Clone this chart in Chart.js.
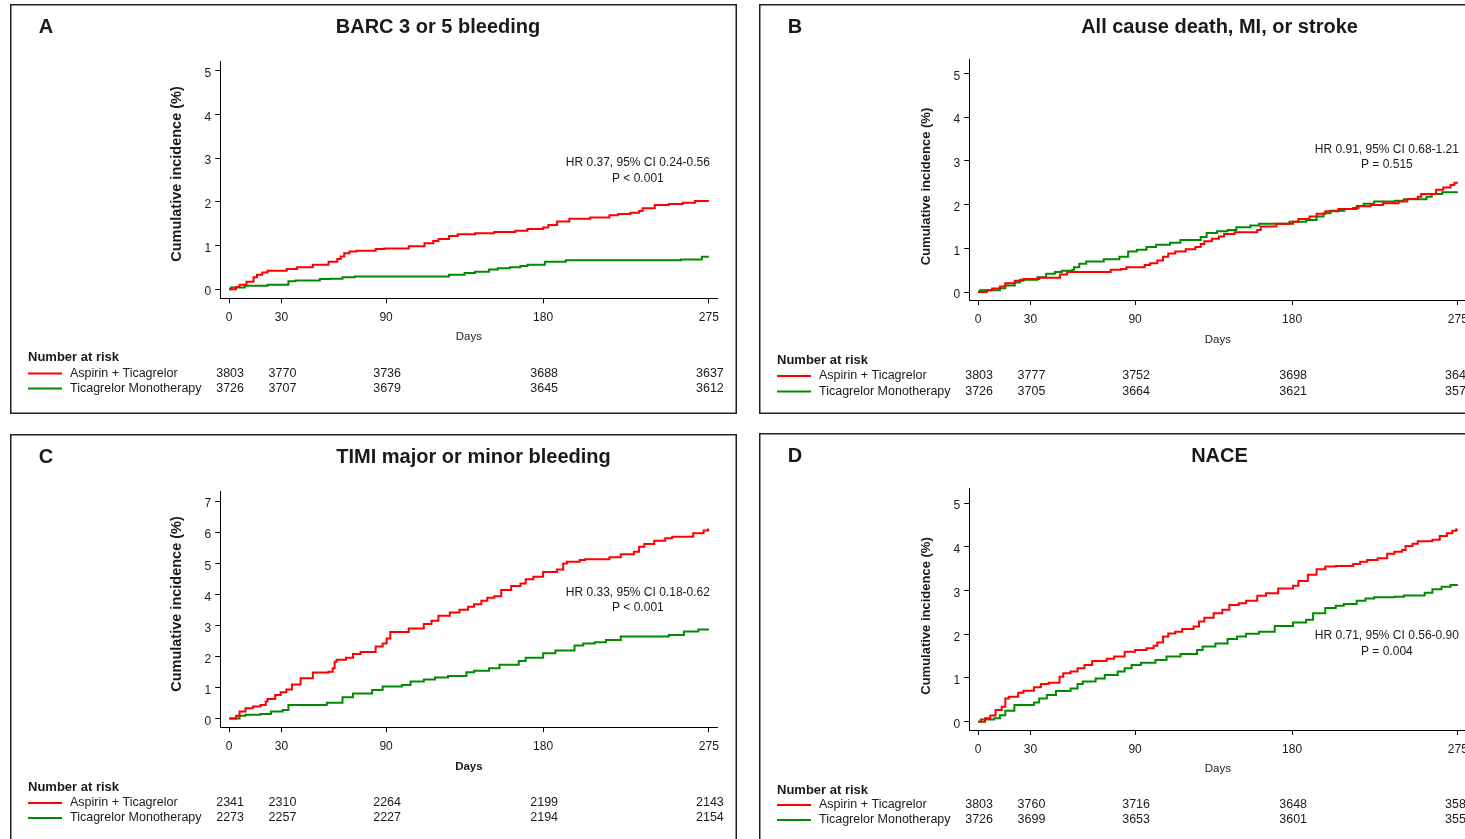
<!DOCTYPE html>
<html>
<head>
<meta charset="utf-8">
<script src="https://cdn.jsdelivr.net/npm/chart.js@4.4.1/dist/chart.umd.min.js"></script>
<style>
  html, body { margin: 0; padding: 0; background: #fff; overflow: hidden; width: 1465px; height: 839px; }
  canvas { position: absolute; }
</style>
</head>
<body>
<canvas id="pA" width="727" height="410" style="left:10px;top:4px"></canvas>
<canvas id="pB" width="727" height="410" style="left:759px;top:4px"></canvas>
<canvas id="pC" width="727" height="410" style="left:10px;top:434px"></canvas>
<canvas id="pD" width="727" height="410" style="left:759px;top:433px"></canvas>
<script>
// ticks on the time axis (days)
const dayTicks = [0, 30, 90, 180, 275];

// A - BARC 3 or 5 bleeding  [day, cumulative %]
const barcAsp = [[0,0],[3,0],[4,0.05],[6,0.1],[10,0.17],[14,0.27],[16,0.33],[19,0.38],[22,0.42],[33,0.46],[39,0.5],[48,0.56],[57,0.63],[62,0.69],[64,0.75],[66,0.82],[69,0.86],[73,0.88],[84,0.92],[89,0.93],[103,0.98],[112,1.05],[117,1.1],[120,1.15],[126,1.22],[131,1.26],[141,1.28],[152,1.31],[164,1.34],[171,1.38],[180,1.41],[183,1.47],[188,1.55],[195,1.61],[207,1.64],[218,1.69],[223,1.72],[230,1.75],[235,1.79],[237,1.85],[244,1.93],[252,1.95],[260,1.98],[267,2.02],[275,2.02]];
const barcTica = [[0,0],[1,0.04],[9,0.08],[22,0.1],[34,0.18],[38,0.2],[52,0.23],[58,0.24],[65,0.27],[72,0.29],[126,0.33],[135,0.37],[141,0.4],[149,0.45],[154,0.48],[161,0.5],[167,0.53],[171,0.56],[181,0.63],[193,0.66],[259,0.68],[271,0.74],[275,0.74]];
const barcRiskAsp = [3803, 3770, 3736, 3688, 3637];
const barcRiskTica = [3726, 3707, 3679, 3645, 3612];

// B - All cause death, MI, or stroke
const deathAsp = [[0,0],[2,0],[5,0.04],[8,0.08],[12.5,0.13],[15.6,0.2],[21,0.26],[26,0.3],[35,0.33],[47,0.4],[51,0.46],[76,0.51],[82,0.53],[85,0.57],[95.5,0.62],[98.6,0.66],[102.7,0.72],[106,0.81],[109,0.88],[113,0.93],[119,0.98],[124.5,1.03],[127.6,1.1],[129.7,1.16],[134,1.22],[138,1.27],[141,1.33],[147,1.37],[160,1.42],[162,1.5],[171,1.56],[180.5,1.61],[183.6,1.67],[190,1.73],[194,1.79],[199,1.85],[206.5,1.9],[215,1.92],[218,1.96],[225,1.99],[232,2.03],[241,2.07],[246,2.13],[252,2.18],[254,2.24],[262.5,2.34],[266.6,2.39],[270.8,2.45],[273,2.5],[275,2.5]];
const deathTica = [[0,0],[1,0.04],[12.5,0.09],[15.6,0.15],[21,0.22],[24,0.28],[34,0.34],[39,0.42],[44,0.46],[48,0.49],[54,0.51],[55,0.57],[58,0.65],[62,0.7],[72,0.75],[81,0.81],[86,0.93],[91,0.97],[96.5,1.03],[102,1.08],[110,1.13],[116,1.19],[127.6,1.26],[131,1.35],[137,1.39],[143,1.42],[148,1.48],[156,1.52],[161,1.56],[178.5,1.61],[188,1.65],[194,1.73],[198,1.8],[202,1.86],[210,1.9],[217,1.97],[221,2.02],[227,2.07],[239,2.09],[244,2.12],[257,2.18],[260,2.24],[266,2.28],[275,2.28]];
const deathRiskAsp = [3803, 3777, 3752, 3698, 3648];
const deathRiskTica = [3726, 3705, 3664, 3621, 3578];

// C - TIMI major or minor bleeding
const timiAsp = [[0,0],[3,0],[4,0.09],[6,0.23],[9.4,0.33],[13.6,0.39],[18,0.44],[21,0.55],[22,0.63],[26.4,0.76],[29.6,0.85],[32.8,0.94],[36,1.1],[41,1.3],[48,1.48],[57,1.51],[59.4,1.62],[60.5,1.83],[61.6,1.89],[67,1.96],[71,2.08],[75.4,2.14],[84,2.32],[88,2.42],[90.3,2.58],[92.4,2.79],[103,2.9],[111.6,3.04],[116,3.15],[120,3.31],[126.5,3.41],[132,3.5],[137,3.6],[140.4,3.68],[144.6,3.79],[148,3.89],[152,3.94],[156,4.14],[161.7,4.27],[167,4.35],[170,4.48],[174.4,4.56],[180,4.72],[188,4.8],[191.5,4.99],[193.6,5.05],[201,5.1],[204,5.13],[218,5.19],[224.5,5.29],[232,5.37],[235,5.53],[238,5.62],[243.7,5.72],[250,5.8],[254,5.85],[266,5.96],[272,6.05],[274.6,6.12]];
const timiTica = [[0,0],[6,0.09],[9.4,0.12],[18,0.15],[24,0.23],[30.7,0.28],[34,0.44],[56,0.51],[65,0.69],[71,0.81],[82,0.92],[88,1.03],[99,1.08],[104,1.19],[111.6,1.26],[118,1.32],[125.5,1.37],[136,1.49],[140.4,1.54],[149,1.62],[155,1.73],[166,1.85],[170,1.96],[180,2.1],[187,2.19],[198,2.35],[203,2.42],[209.6,2.46],[216,2.53],[224.5,2.64],[252,2.69],[260.7,2.8],[269,2.87],[275,2.87]];
const timiRiskAsp = [2341, 2310, 2264, 2199, 2143];
const timiRiskTica = [2273, 2257, 2227, 2194, 2154];

// D - NACE
const naceAsp = [[0,0],[2,0],[4,0.08],[7,0.14],[10,0.27],[13.5,0.34],[15.6,0.53],[17.6,0.57],[23,0.66],[26,0.71],[32,0.79],[36,0.86],[40.5,0.89],[46.7,1.03],[48.8,1.11],[53,1.15],[57,1.22],[61,1.3],[65.4,1.39],[73.7,1.44],[78,1.49],[84,1.6],[90,1.64],[96.5,1.68],[100.6,1.74],[102.7,1.81],[106,1.95],[109,2.02],[113,2.06],[117,2.12],[123.5,2.18],[126.6,2.29],[129.7,2.38],[135,2.48],[140,2.56],[144,2.67],[149.4,2.71],[153.6,2.77],[160,2.88],[165,2.94],[172,3.05],[180.5,3.11],[183.6,3.22],[189,3.36],[194,3.49],[199,3.55],[205,3.56],[215,3.61],[219,3.66],[223,3.7],[229,3.74],[234.5,3.84],[238.6,3.89],[243,3.93],[245,4.02],[249,4.07],[252,4.13],[260.4,4.16],[264.6,4.25],[268.7,4.31],[271.8,4.37],[274,4.4],[275,4.4]];
const naceTica = [[0,0],[1.5,0.05],[9.3,0.08],[12.5,0.15],[15.6,0.25],[20.8,0.38],[32,0.44],[35,0.53],[39.4,0.61],[44.6,0.7],[53,0.76],[57,0.86],[60,0.92],[67.4,0.99],[72.6,1.07],[80,1.15],[84,1.22],[88,1.3],[93.4,1.35],[101.7,1.41],[108,1.49],[116,1.55],[125.5,1.64],[128.7,1.72],[136,1.79],[143,1.89],[148.4,1.95],[153.6,2.01],[161,2.06],[170,2.19],[180.5,2.27],[188,2.33],[192,2.48],[199,2.6],[205,2.65],[209.6,2.69],[217,2.77],[222,2.82],[227,2.85],[238.6,2.86],[244,2.89],[256,2.95],[260.4,3.03],[265.6,3.09],[270.8,3.13],[275,3.13]];
const naceRiskAsp = [3803, 3760, 3716, 3648, 3582];
const naceRiskTica = [3726, 3699, 3653, 3601, 3551];

const groupNames = ['Aspirin + Ticagrelor', 'Ticagrelor Monotherapy'];

const FONT = '"Liberation Sans", Arial, Helvetica, sans-serif';
const INK = '#1a1a1a';
const RED = '#ff0000';
const GREEN = '#008b00';
const Y_AXIS_W = 40;   // room kept for the y tick labels
const X_AXIS_H = 30;   // room kept for the x tick labels

// box, headings, HR text and number-at-risk table
const panelDecor = {
  id: 'panelDecor',
  afterDraw(chart, args, p) {
    const ctx = chart.ctx;
    const xs = chart.scales.x, ys = chart.scales.y, ca = chart.chartArea;
    ctx.save();
    ctx.strokeStyle = '#222';
    ctx.lineWidth = 1.5;
    ctx.strokeRect(0.75, 0.75, chart.width - 1.5, chart.height - 1.5);

    ctx.fillStyle = INK;
    ctx.textBaseline = 'middle';
    ctx.font = 'bold 20px ' + FONT;
    ctx.textAlign = 'center';
    ctx.fillText(p.letter, 36, 23);
    ctx.fillText(p.title, p.titleX, 23);

    // y title
    ctx.save();
    ctx.translate(167, p.yTitleY);
    ctx.rotate(-Math.PI / 2);
    ctx.font = 'bold ' + p.yTitleSize + 'px ' + FONT;
    ctx.fillText('Cumulative incidence (%)', 0, 0);
    ctx.restore();

    ctx.font = (p.daysBold ? 'bold ' : '') + '11.5px ' + FONT;
    ctx.fillText('Days', (ca.left + ca.right) / 2, p.daysY);

    // hazard ratio
    ctx.font = '12px ' + FONT;
    const hx = xs.getPixelForValue(234.3);
    const hy = ys.getPixelForValue(p.hrY);
    ctx.fillText(p.hr[0], hx, hy);
    ctx.fillText(p.hr[1], hx, hy + 15.5);

    // number at risk
    ctx.textAlign = 'left';
    ctx.font = 'bold 13px ' + FONT;
    ctx.fillText('Number at risk', 18, p.risk[0]);
    const rows = [[p.riskAsp, RED], [p.riskTica, GREEN]];
    rows.forEach(([vals, col], i) => {
      const y = p.risk[i + 1];
      ctx.strokeStyle = col;
      ctx.lineWidth = 2;
      ctx.beginPath();
      ctx.moveTo(18, y);
      ctx.lineTo(52, y);
      ctx.stroke();
      ctx.textAlign = 'left';
      ctx.font = '12.5px ' + FONT;
      ctx.fillText(groupNames[i], 60, y);
      ctx.textAlign = 'center';
      vals.forEach((v, k) => ctx.fillText(String(v), xs.getPixelForValue(dayTicks[k]) + 1, y));
    });
    ctx.restore();
  }
};

function kmPanel(id, asp, tica, p) {
  const toXY = a => a.map(d => ({ x: d[0], y: d[1] }));
  const axisBase = {
    type: 'linear',
    grid: { drawOnChartArea: false, drawTicks: true, tickLength: 5, color: '#000', lineWidth: 1 },
    border: { display: true, color: '#000', width: 1 },
  };
  return new Chart(document.getElementById(id), {
    type: 'line',
    data: {
      datasets: [
        { data: toXY(asp), borderColor: RED, borderWidth: 2, stepped: true, pointRadius: 0, fill: false },
        { data: toXY(tica), borderColor: GREEN, borderWidth: 2, stepped: true, pointRadius: 0, fill: false },
      ]
    },
    plugins: [panelDecor],
    options: {
      responsive: false,
      animation: false,
      devicePixelRatio: 1,
      layout: { padding: { left: 210.2 - Y_AXIS_W, right: 19.4, top: p.top, bottom: 410 - p.bottom - X_AXIS_H } },
      plugins: { legend: { display: false }, tooltip: { enabled: false }, panelDecor: p },
      scales: {
        x: Object.assign({}, axisBase, {
          min: -5.1, max: 280,
          afterFit: s => { s.height = X_AXIS_H; },
          afterBuildTicks: s => { s.ticks = dayTicks.map(v => ({ value: v })); },
          ticks: { autoSkip: false, maxRotation: 0, padding: 7.5, color: INK, font: { family: FONT, size: 12 }, callback: v => String(v) }
        }),
        y: Object.assign({}, axisBase, {
          min: p.yMin, max: p.yMax,
          afterFit: s => { s.width = Y_AXIS_W; },
          afterBuildTicks: s => { s.ticks = p.yTicks.map(v => ({ value: v })); },
          ticks: { padding: 4, labelOffset: 3, color: INK, font: { family: FONT, size: 12 }, callback: v => String(v) }
        })
      }
    }
  });
}

kmPanel('pA', barcAsp, barcTica, {
  letter: 'A', title: 'BARC 3 or 5 bleeding', titleX: 428,
  top: 57.7, bottom: 294.3, yMin: -0.21, yMax: 5.21, yTicks: [0, 1, 2, 3, 4, 5],
  yTitleY: 170, yTitleSize: 14.5, daysY: 333, daysBold: false,
  hr: ['HR 0.37, 95% CI 0.24-0.56', 'P < 0.001'], hrY: 2.89,
  risk: [353.5, 369.5, 384.5], riskAsp: barcRiskAsp, riskTica: barcRiskTica
});
kmPanel('pB', deathAsp, deathTica, {
  letter: 'B', title: 'All cause death, MI, or stroke', titleX: 460.5,
  top: 55.3, bottom: 296, yMin: -0.18, yMax: 5.32, yTicks: [0, 1, 2, 3, 4, 5],
  yTitleY: 182.5, yTitleSize: 13, daysY: 335.5, daysBold: false,
  hr: ['HR 0.91, 95% CI 0.68-1.21', 'P = 0.515'], hrY: 3.26,
  risk: [356, 372, 387.5], riskAsp: deathRiskAsp, riskTica: deathRiskTica
});
kmPanel('pC', timiAsp, timiTica, {
  letter: 'C', title: 'TIMI major or minor bleeding', titleX: 463.5,
  top: 57.7, bottom: 293.3, yMin: -0.28, yMax: 7.3, yTicks: [0, 1, 2, 3, 4, 5, 6, 7],
  yTitleY: 170, yTitleSize: 14.5, daysY: 333, daysBold: true,
  hr: ['HR 0.33, 95% CI 0.18-0.62', 'P < 0.001'], hrY: 4.06,
  risk: [353, 369, 384], riskAsp: timiRiskAsp, riskTica: timiRiskTica
});
kmPanel('pD', naceAsp, naceTica, {
  letter: 'D', title: 'NACE', titleX: 460.5,
  top: 55.3, bottom: 297, yMin: -0.19, yMax: 5.34, yTicks: [0, 1, 2, 3, 4, 5],
  yTitleY: 183, yTitleSize: 13, daysY: 336, daysBold: false,
  hr: ['HR 0.71, 95% CI 0.56-0.90', 'P = 0.004'], hrY: 1.96,
  risk: [357, 372, 387], riskAsp: naceRiskAsp, riskTica: naceRiskTica
});
</script>
</body>
</html>
